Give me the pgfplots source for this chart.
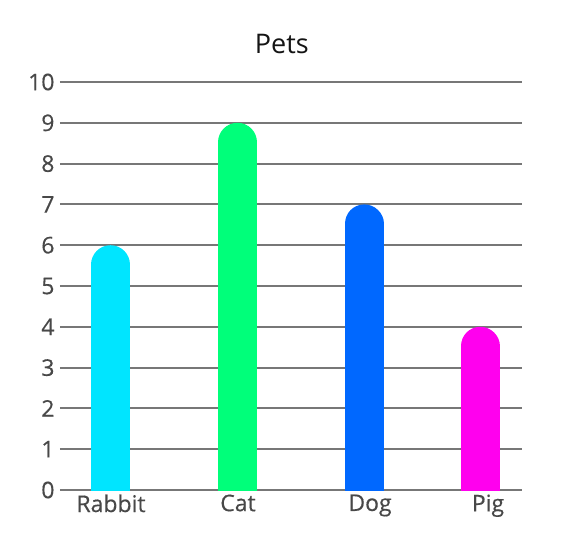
\documentclass[border=0pt]{standalone}
\usepackage{fontspec}
\setmainfont{Open Sans}
\newfontfamily\medfont{Open Sans}[FakeBold=0.4]
\usepackage{pgfplots}
\pgfplotsset{compat=1.18}
\definecolor{gridgray}{HTML}{777777}
\definecolor{txt}{HTML}{484848}
\definecolor{crabbit}{HTML}{00E5FF}
\definecolor{ccat}{HTML}{00FF7A}
\definecolor{cdog}{HTML}{0068FF}
\definecolor{cpig}{HTML}{FF00EE}
\begin{document}
\begin{tikzpicture}[x=1pt,y=1pt]
\path[use as bounding box] (-60,-60) rectangle (508,490);
\begin{axis}[
  at={(0,0)}, anchor=south west,
  scale only axis, width=462pt, height=408pt,
  xmin=0, xmax=4.62, ymin=0, ymax=10,
  axis line style={draw=none},
  ytick={0,1,...,10},
  xtick={0.51,1.78,3.10,4.28},
  xticklabels={Rabbit,Cat,Dog,Pig},
  major tick length=0pt,
  ymajorgrids, grid style={gridgray, line width=2pt},
  /pgf/number format/assume math mode=true,
  tick label style={font=\medfont\fontsize{23}{27}\selectfont, text=txt},
  yticklabel style={xshift=-2pt},
  xticklabel style={yshift=-1pt},
  clip=true,
  title={Pets},
  title style={at={(0.48,1)}, anchor=center, yshift=32pt, font=\fontsize{27}{32}\selectfont, text=black!92},
]
\addplot[ycomb, draw=crabbit, line width=39pt, line cap=round, yshift=-19.5pt, mark=none] coordinates {(0.505,6)};
\addplot[ycomb, draw=ccat, line width=39pt, line cap=round, yshift=-19.5pt, mark=none] coordinates {(1.775,9)};
\addplot[ycomb, draw=cdog, line width=39pt, line cap=round, yshift=-19.5pt, mark=none] coordinates {(3.04,7)};
\addplot[ycomb, draw=cpig, line width=39pt, line cap=round, yshift=-19.5pt, mark=none] coordinates {(4.20,4)};
\end{axis}
\end{tikzpicture}
\end{document}
